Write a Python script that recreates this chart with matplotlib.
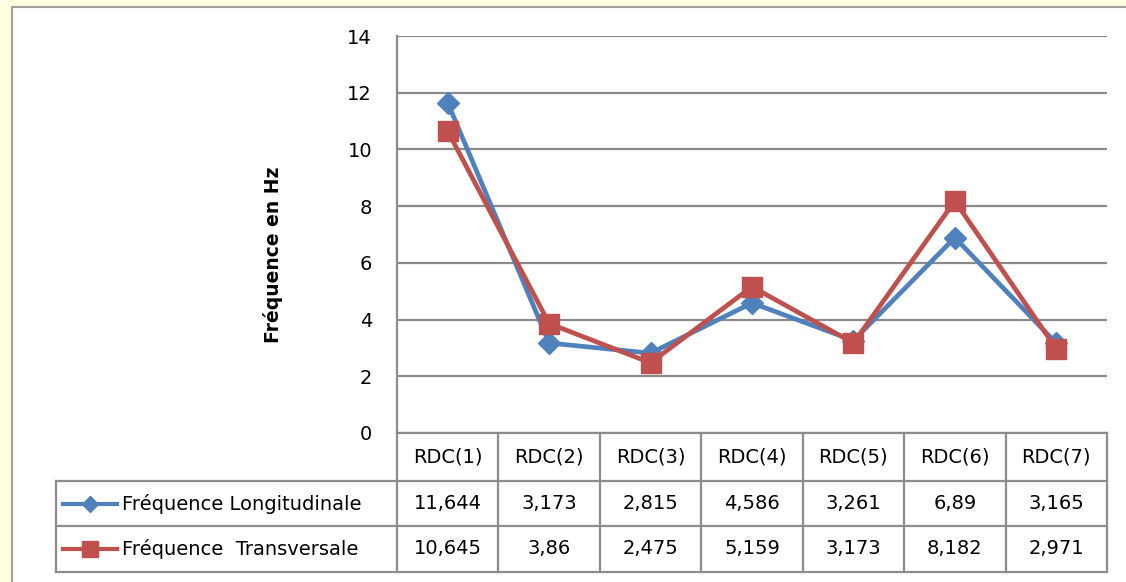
import matplotlib
matplotlib.use("Agg")
import matplotlib.pyplot as plt
from matplotlib.lines import Line2D
from matplotlib.patches import Rectangle

# ---- data ----
categories = ["RDC(1)", "RDC(2)", "RDC(3)", "RDC(4)", "RDC(5)", "RDC(6)", "RDC(7)"]
freq_longitudinale = [11.644, 3.173, 2.815, 4.586, 3.261, 6.89, 3.165]
freq_transversale = [10.645, 3.86, 2.475, 5.159, 3.173, 8.182, 2.971]
series_names = ["Fréquence Longitudinale", "Fréquence  Transversale"]
y_ticks = [0, 2, 4, 6, 8, 10, 12, 14]
y_label = "Fréquence en Hz"

# ---- style ----
W, H = 1126, 582
BLUE = "#4F81BD"
RED = "#C0504D"
GRID = "#8A8A8A"
BORDER = "#8C8C8C"
FONT = ["DejaVu Sans"]
FS = 14

plt.rcParams["font.family"] = FONT

fig = plt.figure(figsize=(W / 100, H / 100), dpi=100)
fig.patch.set_facecolor("#FFFFE3")

# pixel-space overlay used for the chart frame and the data table
ov = fig.add_axes([0, 0, 1, 1])
ov.set_xlim(0, W)
ov.set_ylim(H, 0)
ov.axis("off")
ov.add_patch(Rectangle((12, 7), W, H, facecolor="white", edgecolor="#A0A0A0",
                       linewidth=1.5, zorder=0))

# plot area geometry (pixels)
px_left, px_right, px_top, px_bottom = 397, 1107, 36, 433
ax = fig.add_axes([px_left / W, 1 - px_bottom / H,
                   (px_right - px_left) / W, (px_bottom - px_top) / H])
ax.set_facecolor("none")
n = len(categories)
x = list(range(n))
ax.set_xlim(-0.5, n - 0.5)
ax.set_ylim(y_ticks[0], y_ticks[-1])
ax.set_yticks(y_ticks)
ax.set_yticklabels([str(t) for t in y_ticks], fontsize=FS)
ax.set_xticks([])
ax.tick_params(axis="y", length=0, pad=18)
ax.grid(axis="y", color=GRID, linewidth=1.6)
ax.set_axisbelow(True)
for s in ["top", "right", "bottom"]:
    ax.spines[s].set_visible(False)
ax.spines["left"].set_color(BORDER)
ax.spines["left"].set_linewidth(1.6)

ax.plot(x, freq_longitudinale, color=BLUE, linewidth=3.4, marker="D",
        markersize=11, markeredgecolor=BLUE, zorder=3, clip_on=False)
ax.plot(x, freq_transversale, color=RED, linewidth=3.4, marker="s",
        markersize=14, markeredgecolor=RED, zorder=4, clip_on=False)

ax.set_ylabel(y_label, fontsize=13.5, fontweight="bold", labelpad=0)
ax.yaxis.set_label_coords((283 - px_left) / (px_right - px_left),
                          (px_bottom - 255) / (px_bottom - px_top))

# ---- data table ----
col_w = (px_right - px_left) / n
row_edges = [433, 481, 526, 572]
leg_left = 56

def hline(x0, x1, y):
    ov.add_line(Line2D([x0, x1], [y, y], color=BORDER, linewidth=1.6))

def vline(xp, y0, y1):
    ov.add_line(Line2D([xp, xp], [y0, y1], color=BORDER, linewidth=1.6))

hline(px_left, px_right, row_edges[0])
for y in row_edges[1:]:
    hline(leg_left, px_right, y)
vline(px_left, px_bottom, row_edges[-1])
vline(leg_left, row_edges[1], row_edges[-1])
for i in range(1, n + 1):
    vline(px_left + i * col_w, row_edges[0], row_edges[-1])

def fmt(v):
    return f"{v:g}".replace(".", ",")

hdr_y = (row_edges[0] + row_edges[1]) / 2
for i, c in enumerate(categories):
    ov.text(px_left + (i + 0.5) * col_w, hdr_y, c, fontsize=FS,
            ha="center", va="center")

rows = [(freq_longitudinale, BLUE, "D", 8), (freq_transversale, RED, "s", 11)]
for r, (vals, col, mk, ms) in enumerate(rows):
    yc = (row_edges[r + 1] + row_edges[r + 2]) / 2
    for i, v in enumerate(vals):
        ov.text(px_left + (i + 0.5) * col_w, yc, fmt(v), fontsize=FS,
                ha="center", va="center")
    ov.add_line(Line2D([63, 117], [yc, yc], color=col, linewidth=3))
    ov.add_line(Line2D([90], [yc], color=col, marker=mk, markersize=ms,
                       markeredgecolor=col, linestyle="none"))
    ov.text(122, yc, series_names[r], fontsize=FS, ha="left", va="center")

fig.savefig("out.png", dpi=100, facecolor=fig.get_facecolor())
